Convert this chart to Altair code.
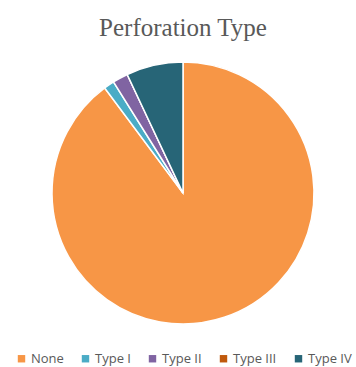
import altair as alt
import pandas as pd

categories = ["None", "Type I", "Type II", "Type III", "Type IV"]
values = [89.8, 1.3, 1.9, 0.0, 7.0]
colors = ["#F79646", "#4BACC6", "#8064A2", "#C0590C", "#276577"]

df = pd.DataFrame({"type": categories, "value": values, "order": list(range(len(categories)))})

chart = alt.Chart(df).mark_arc(outerRadius=131, stroke="white", strokeWidth=1.5).encode(
    theta=alt.Theta("value:Q", stack=True),
    order=alt.Order("order:Q"),
    color=alt.Color(
        "type:N",
        sort=categories,
        scale=alt.Scale(domain=categories, range=colors),
        legend=alt.Legend(
            title=None,
            orient="none",
            direction="horizontal",
            legendX=-37,
            legendY=290,
            symbolType="square",
            symbolSize=55,
            symbolStrokeWidth=0,
            labelFont="Open Sans",
            labelFontSize=13,
            labelColor="#595959",
            columnPadding=15,
            labelOffset=3,
        ),
    ),
).properties(
    width=262,
    height=262,
    padding={"left": 52, "top": 62, "right": 42, "bottom": 43},
    autosize=alt.AutoSizeParams(type="none"),
    title=alt.TitleParams(
        "Perforation Type",
        font="Liberation Serif",
        fontSize=25,
        fontWeight="normal",
        color="#595959",
        anchor="middle",
        offset=18,
    ),
).configure_view(stroke=None)

chart.save("out.html", embed_options={"renderer": "svg", "actions": False})
